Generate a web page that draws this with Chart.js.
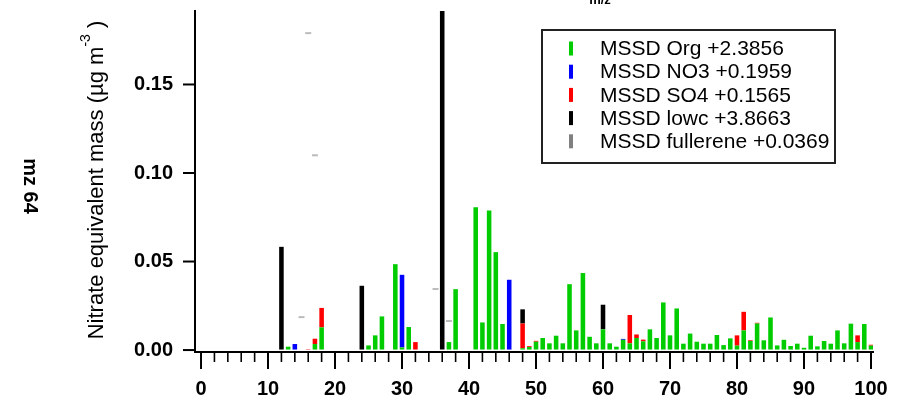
<!DOCTYPE html>
<html>
<head>
<meta charset="utf-8">
<script src="https://cdn.jsdelivr.net/npm/chart.js@4/dist/chart.umd.min.js"></script>
<style>
html,body{margin:0;padding:0;background:#fff;}
#wrap{width:907px;height:405px;position:relative;}
</style>
</head>
<body>
<div id="wrap"><canvas id="c" width="907" height="405"></canvas></div>
<script>
// m/z values 0..100
const mzValues = Array.from({length: 101}, (_, i) => i);

// [m/z, value] pairs per series (µg m-3)
const orgPoints = [
  [13,0.0019],[17,0.0034],[18,0.0128],[25,0.0026],[26,0.0083],[27,0.019],[29,0.0485],[30,0.0015],[31,0.013],
  [37,0.0045],[38,0.0344],[41,0.0807],[42,0.0156],[43,0.0788],[44,0.0553],[45,0.0147],[48,0.001],[49,0.0017],
  [50,0.0047],[51,0.0068],[52,0.0038],[53,0.0081],[54,0.0038],[55,0.0372],[56,0.0111],[57,0.0435],[58,0.0075],
  [59,0.0038],[60,0.0117],[61,0.0038],[62,0.0019],[63,0.0058],[64,0.0038],[65,0.0068],[66,0.0049],[67,0.0117],
  [68,0.0068],[69,0.0269],[70,0.0083],[71,0.0235],[72,0.0036],[73,0.0093],[74,0.0047],[75,0.0036],[76,0.0036],
  [77,0.0085],[78,0.0028],[79,0.0066],[80,0.0025],[81,0.0111],[82,0.0052],[83,0.015],[84,0.0055],[85,0.0184],
  [86,0.0026],[87,0.0058],[88,0.0023],[89,0.0036],[90,0.0013],[91,0.0081],[92,0.0021],[93,0.0051],[94,0.0036],
  [95,0.0111],[96,0.0038],[97,0.0149],[98,0.0045],[99,0.0147],[100,0.0025]
];
const no3Points = [[14,0.0034],[30,0.041],[46,0.0397],[63,0.0005]];
const so4Points = [[16,0.0005],[17,0.003],[18,0.011],[32,0.0045],[33,0.0003],[48,0.014],[49,0.0005],[50,0.0005],
  [64,0.016],[65,0.002],[66,0.001],[80,0.0058],[81,0.0105],[82,0.0004],[83,0.0004],[98,0.0038],[100,0.0005]];
const lowcPoints = [[12,0.0583],[24,0.0363],[36,0.25],[48,0.008],[60,0.0139]];
const fullerenePoints = [[15,0.0186],[16,0.179],[17,0.110],[35,0.0345],[37,0.0164]];

const seriesLabels = ['MSSD Org +2.3856','MSSD NO3 +0.1959','MSSD SO4 +0.1565','MSSD lowc +3.8663','MSSD fullerene +0.0369'];
const seriesColors = ['#00cc00','#0000ff','#ff0000','#000000','#808080'];

const yTicks = [0, 0.05, 0.10, 0.15];
const xMajorTicks = [0,10,20,30,40,50,60,70,80,90,100];
const xMinorStep = 2;

const toXY = pts => pts.map(p => ({x: p[0], y: p[1]}));
// include every m/z on the index axis so bar spacing is 1 unit
function fullSeries(pts){
  const m = new Map(pts);
  return mzValues.map(v => ({x: v, y: m.has(v) ? m.get(v) : 0}));
}

const FONT = "'Liberation Sans', Arial, sans-serif";
const Y_MIN = -0.0011, Y_MAX = 0.1915;

const decor = {
  id: 'decor',
  afterDraw(chart){
    const ctx = chart.ctx, xs = chart.scales.x, ys = chart.scales.y, ca = chart.chartArea;
    ctx.save();
    ctx.strokeStyle = '#000';
    // x tick marks
    for (let v = 0; v <= 100; v += xMinorStep){
      const px = xs.getPixelForValue(v);
      const major = v % 10 === 0;
      ctx.lineWidth = major ? 2 : 1.6;
      ctx.beginPath();
      ctx.moveTo(px, ca.bottom);
      ctx.lineTo(px, ca.bottom + (major ? 17 : 10));
      ctx.stroke();
    }
    // y tick marks
    ctx.lineWidth = 2;
    yTicks.forEach(v => {
      const py = ys.getPixelForValue(v);
      ctx.beginPath();
      ctx.moveTo(ca.left - 12, py);
      ctx.lineTo(ca.left, py);
      ctx.stroke();
    });
    // y title
    ctx.fillStyle = '#000';
    ctx.save();
    ctx.translate(97, 180);
    ctx.rotate(-Math.PI/2);
    const p1 = 'Nitrate equivalent mass (\u00b5g m', p2 = '-3', p3 = ' )';
    ctx.font = '22px ' + FONT;
    const w1 = ctx.measureText(p1).width, w3 = ctx.measureText(p3).width;
    ctx.font = '14px ' + FONT;
    const w2 = ctx.measureText(p2).width;
    const tot = w1 + w2 + w3;
    let x0 = -tot/2;
    ctx.textBaseline = 'middle';
    ctx.textAlign = 'left';
    ctx.font = '22px ' + FONT;
    ctx.fillText(p1, x0, 0);
    ctx.font = '14px ' + FONT;
    ctx.fillText(p2, x0 + w1, -11);
    ctx.font = '22px ' + FONT;
    ctx.fillText(p3, x0 + w1 + w2, 0);
    ctx.restore();
    // side label
    ctx.save();
    ctx.translate(30, 186);
    ctx.rotate(Math.PI/2);
    ctx.font = 'bold 20px ' + FONT;
    ctx.textAlign = 'center';
    ctx.textBaseline = 'middle';
    ctx.fillText('mz 64', 0, 0);
    ctx.restore();
    // cut-off top label
    ctx.font = 'bold 13px ' + FONT;
    ctx.textAlign = 'center';
    ctx.textBaseline = 'alphabetic';
    ctx.fillText('m/z', 600, 4);
    // legend
    ctx.lineWidth = 2;
    ctx.strokeStyle = '#222';
    ctx.strokeRect(542, 30, 293, 133);
    ctx.font = '21px ' + FONT;
    ctx.textAlign = 'left';
    ctx.textBaseline = 'middle';
    seriesLabels.forEach((lab, i) => {
      const y = 48.5 + i * 23.2;
      ctx.fillStyle = seriesColors[i];
      ctx.fillRect(569, y - 7, 4, 14);
      ctx.fillStyle = '#000';
      ctx.fillText(lab, 600, y + 1);
    });
    ctx.restore();
  }
};

const barCommon = {type: 'bar', stack: 's', barPercentage: 0.68, categoryPercentage: 1, borderWidth: 0, yAxisID: 'y'};

new Chart(document.getElementById('c'), {
  data: {
    datasets: [
      Object.assign({label: seriesLabels[0], data: fullSeries(orgPoints), backgroundColor: seriesColors[0]}, barCommon),
      Object.assign({label: seriesLabels[1], data: toXY(no3Points), backgroundColor: seriesColors[1]}, barCommon),
      Object.assign({label: seriesLabels[2], data: toXY(so4Points), backgroundColor: seriesColors[2]}, barCommon),
      Object.assign({label: seriesLabels[3], data: toXY(lowcPoints), backgroundColor: seriesColors[3]}, barCommon),
      {type: 'scatter', label: seriesLabels[4], data: toXY(fullerenePoints), yAxisID: 'y2',
       pointStyle: 'line', radius: 3, borderColor: '#bbbbbb', borderWidth: 2, backgroundColor: '#bbbbbb'}
    ]
  },
  options: {
    responsive: false,
    animation: false,
    layout: {padding: {top: 11, right: 34, left: 0, bottom: 0}},
    plugins: {legend: {display: false}, tooltip: {enabled: false}},
    scales: {
      x: {
        type: 'linear', min: -0.9, max: 100.3, stacked: true, offset: false,
        afterBuildTicks: s => { s.ticks = xMajorTicks.map(v => ({value: v})); },
        afterFit: s => { s.height = 53; },
        grid: {display: true, drawOnChartArea: false, drawTicks: true, tickLength: 27, tickColor: 'rgba(0,0,0,0)', offset: false},
        border: {display: true, color: '#000', width: 2},
        ticks: {padding: 0, color: '#000', font: {family: FONT, size: 20, weight: 'bold', lineHeight: 1}, maxRotation: 0,
                callback: v => String(v)}
      },
      y: {
        type: 'linear', min: Y_MIN, max: Y_MAX, stacked: true,
        afterBuildTicks: s => { s.ticks = yTicks.map(v => ({value: v})); },
        afterFit: s => { s.width = 195; },
        grid: {display: true, drawOnChartArea: false, drawTicks: true, tickLength: 22, tickColor: 'rgba(0,0,0,0)'},
        border: {display: true, color: '#000', width: 2},
        ticks: {padding: 0, color: '#000', font: {family: FONT, size: 20, weight: 'bold', lineHeight: 1},
                callback: v => v.toFixed(2)}
      },
      y2: {type: 'linear', min: Y_MIN, max: Y_MAX, display: false}
    }
  },
  plugins: [decor]
});
</script>
</body>
</html>
